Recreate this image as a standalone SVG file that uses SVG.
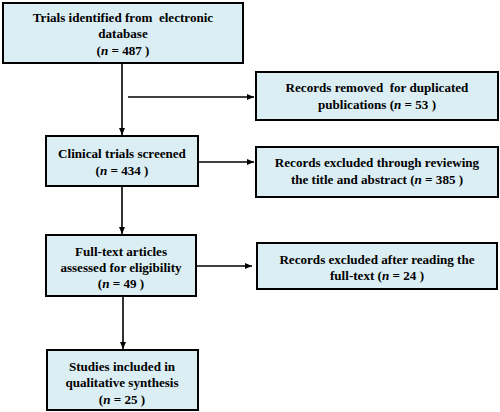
<svg xmlns="http://www.w3.org/2000/svg" width="500" height="412" viewBox="0 0 500 412">
<defs>
<marker id="ah" markerWidth="8" markerHeight="8" refX="7" refY="4" orient="auto" markerUnits="userSpaceOnUse">
<path d="M0,1 L7,4 L0,7 Z" fill="#000"/>
</marker>
<style>
.box{fill:#dbeef4;stroke:#000;stroke-width:2}
.t{font-family:"Liberation Serif","Times New Roman",serif;font-weight:bold;font-size:13.1px;text-anchor:middle;fill:#000;white-space:pre}
.c{stroke:#000;stroke-width:1.6;fill:none}
</style>
</defs>
<rect width="500" height="412" fill="#fff"/>
<g id="connectors">
<line class="c" x1="122" y1="63" x2="122" y2="135" marker-end="url(#ah)"/>
<line class="c" x1="128" y1="97" x2="254" y2="97" marker-end="url(#ah)"/>
<line class="c" x1="198" y1="162" x2="254" y2="162" marker-end="url(#ah)"/>
<line class="c" x1="122" y1="186" x2="122" y2="234" marker-end="url(#ah)"/>
<line class="c" x1="196" y1="266" x2="252" y2="266" marker-end="url(#ah)"/>
<line class="c" x1="123" y1="296" x2="123" y2="349" marker-end="url(#ah)"/>
</g>
<g id="n1">
<rect class="box" x="3" y="3" width="240" height="60"/>
<text class="t" x="123" y="22" xml:space="preserve">Trials identified from  electronic</text>
<text class="t" x="123" y="38">database</text>
<text class="t" x="123" y="55">(<tspan font-style="italic">n</tspan> = 487 )</text>
</g>
<g id="n2">
<rect class="box" x="256" y="72" width="242" height="48"/>
<text class="t" x="377" y="92" xml:space="preserve">Records removed  for duplicated</text>
<text class="t" x="377" y="109">publications (<tspan font-style="italic">n</tspan> = 53 )</text>
</g>
<g id="n3">
<rect class="box" x="46" y="136" width="152" height="50"/>
<text class="t" x="122" y="158">Clinical trials screened</text>
<text class="t" x="122" y="175">(<tspan font-style="italic">n</tspan> = 434 )</text>
</g>
<g id="n4">
<rect class="box" x="256" y="147" width="242" height="50"/>
<text class="t" x="377" y="167">Records excluded through reviewing</text>
<text class="t" x="377" y="184">the title and abstract (<tspan font-style="italic">n</tspan> = 385 )</text>
</g>
<g id="n5">
<rect class="box" x="46" y="235" width="150" height="61"/>
<text class="t" x="121" y="256">Full-text articles</text>
<text class="t" x="121" y="272">assessed for eligibility</text>
<text class="t" x="121" y="288">(<tspan font-style="italic">n</tspan> = 49 )</text>
</g>
<g id="n6">
<rect class="box" x="257" y="243" width="240" height="46"/>
<text class="t" x="377" y="264">Records excluded after reading the</text>
<text class="t" x="377" y="280">full-text (<tspan font-style="italic">n</tspan> = 24 )</text>
</g>
<g id="n7">
<rect class="box" x="47" y="350" width="151" height="60"/>
<text class="t" x="122" y="371">Studies included in</text>
<text class="t" x="122" y="387">qualitative synthesis</text>
<text class="t" x="122" y="404">(<tspan font-style="italic">n</tspan> = 25 )</text>
</g>
</svg>
